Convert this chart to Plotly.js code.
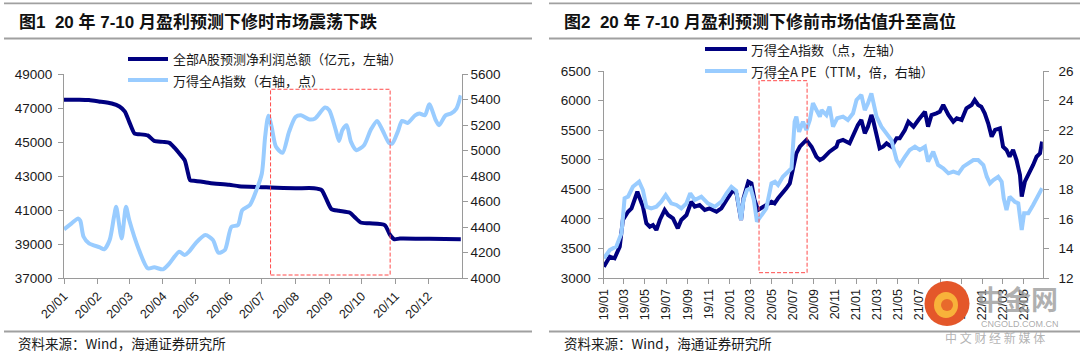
<!DOCTYPE html>
<html>
<head>
<meta charset="utf-8">
<script src="https://cdn.plot.ly/plotly-3.0.1.min.js"></script>
<style>
html,body{margin:0;padding:0;background:#fff;}
#chart{width:1080px;height:353px;}
</style>
</head>
<body>
<div id="chart"></div>
<script>
// ---------------- Chart 1 data (2020) ----------------
const profitDates = ['2020-01-01','2020-01-15','2020-01-24','2020-02-02','2020-02-14','2020-02-21','2020-02-26','2020-03-01','2020-03-06','2020-03-10','2020-03-18','2020-03-24','2020-04-01','2020-04-07','2020-04-12','2020-04-16','2020-04-21','2020-04-24','2020-04-26','2020-05-01','2020-05-14','2020-06-01','2020-06-10','2020-07-01','2020-07-09','2020-08-01','2020-08-18','2020-08-25','2020-08-29','2020-09-03','2020-09-10','2020-09-20','2020-09-24','2020-09-30','2020-10-08','2020-10-22','2020-10-27','2020-10-31','2020-11-05','2020-12-02','2020-12-31'];
const profitValues = [47500,47500,47480,47400,47280,47100,46800,46200,45500,45470,45400,45080,45020,44960,44650,44350,43940,43200,42760,42720,42600,42490,42410,42350,42330,42290,42290,42180,41690,41060,40960,40840,40610,40270,40220,40120,39530,39280,39330,39310,39290];

const indexDates2020 = ['2020-01-01','2020-01-08','2020-01-14','2020-01-16','2020-01-19','2020-01-24','2020-02-03','2020-02-07','2020-02-12','2020-02-16','2020-02-18','2020-02-23','2020-02-27','2020-03-01','2020-03-10','2020-03-18','2020-03-24','2020-04-01','2020-04-07','2020-04-16','2020-04-21','2020-04-25','2020-05-01','2020-05-10','2020-05-17','2020-05-22','2020-05-28','2020-06-03','2020-06-09','2020-06-13','2020-06-20','2020-06-26','2020-07-01','2020-07-04','2020-07-07','2020-07-10','2020-07-14','2020-07-20','2020-07-26','2020-08-01','2020-08-06','2020-08-14','2020-08-19','2020-08-28','2020-09-01','2020-09-07','2020-09-10','2020-09-13','2020-09-17','2020-09-21','2020-09-26','2020-10-03','2020-10-09','2020-10-15','2020-10-20','2020-10-26','2020-10-29','2020-11-03','2020-11-07','2020-11-12','2020-11-19','2020-11-23','2020-11-28','2020-12-02','2020-12-08','2020-12-11','2020-12-17','2020-12-22','2020-12-27','2020-12-31'];
const indexValues2020 = [4382,4429,4468,4450,4324,4272,4241,4225,4298,4481,4559,4311,4559,4455,4220,4076,4084,4068,4115,4207,4180,4207,4272,4337,4298,4199,4220,4402,4416,4533,4573,4690,4821,5108,5275,5187,5030,4983,5148,5265,5278,5245,5253,5339,5318,5161,5077,5161,5200,5069,5004,5043,5161,5234,5161,5061,5056,5148,5234,5218,5278,5292,5278,5365,5239,5200,5278,5292,5331,5435];

// highlight box chart 1
const box1Dates = ['2020-07-09','2020-10-27'];
const box1Values = [37176,48118];

// ---------------- Chart 2 data (2019-2022) ----------------
const idxDates = ['2019-01-02','2019-01-19','2019-02-02','2019-02-17','2019-02-26','2019-03-13','2019-03-23','2019-04-01','2019-04-09','2019-04-16','2019-04-25','2019-05-05','2019-05-15','2019-05-24','2019-06-03','2019-06-13','2019-06-27','2019-07-07','2019-07-21','2019-08-04','2019-08-14','2019-08-29','2019-09-12','2019-09-22','2019-10-06','2019-10-21','2019-11-04','2019-11-24','2019-12-08','2019-12-23','2020-01-01','2020-01-11','2020-01-21','2020-02-03','2020-02-10','2020-02-24','2020-03-04','2020-03-13','2020-03-23','2020-04-02','2020-04-16','2020-05-01','2020-05-10','2020-05-20','2020-06-03','2020-06-13','2020-06-23','2020-07-02','2020-07-12','2020-07-22','2020-08-10','2020-08-25','2020-09-08','2020-09-18','2020-09-27','2020-10-16','2020-11-05','2020-11-10','2020-11-24','2020-12-13','2020-12-23','2021-01-06','2021-01-16','2021-01-26','2021-02-04','2021-02-14','2021-02-19','2021-03-01','2021-03-10','2021-03-20','2021-03-30','2021-04-13','2021-04-28','2021-05-07','2021-05-22','2021-06-01','2021-06-16','2021-06-30','2021-07-10','2021-07-19','2021-07-28','2021-08-07','2021-08-21','2021-08-31','2021-09-10','2021-09-25','2021-10-09','2021-10-19','2021-11-02','2021-11-16','2021-12-01','2021-12-10','2021-12-20','2021-12-29','2022-01-08','2022-01-18','2022-01-28','2022-02-07','2022-02-21','2022-03-02','2022-03-12','2022-03-21','2022-03-31','2022-04-10','2022-04-20','2022-04-25','2022-05-04','2022-05-19','2022-05-28','2022-06-07','2022-06-17','2022-06-23'];
const idxValues = [3191,3360,3333,3530,3981,4121,4178,4347,4459,4347,4206,3925,3867,3896,3812,3981,4150,4065,4009,3840,3981,4065,4290,4206,4234,4150,4178,4121,4178,4319,4403,4488,4420,3981,4347,4628,4600,4319,4150,4178,4234,4290,4263,4347,4432,4516,4600,4826,5108,5220,5334,5220,5051,4995,5023,5136,5220,5305,5334,5278,5418,5587,5672,5447,5558,5756,5672,5447,5193,5220,5277,5220,5362,5362,5503,5643,5558,5672,5756,5812,5558,5756,5785,5812,5926,5756,5643,5700,5672,5870,5926,6010,5926,5897,5785,5616,5389,5503,5531,5220,5165,5051,5165,4995,4742,4375,4628,4797,4911,5051,5108,5305];

const peDates = ['2019-01-02','2019-01-19','2019-02-07','2019-02-22','2019-03-03','2019-03-13','2019-03-27','2019-04-14','2019-04-25','2019-05-05','2019-05-19','2019-06-03','2019-06-17','2019-06-30','2019-07-16','2019-07-31','2019-08-14','2019-08-29','2019-09-09','2019-09-22','2019-10-11','2019-10-30','2019-11-19','2019-12-08','2019-12-23','2020-01-06','2020-01-20','2020-02-03','2020-02-10','2020-02-20','2020-03-02','2020-03-11','2020-03-20','2020-04-02','2020-04-16','2020-05-01','2020-05-11','2020-05-20','2020-06-03','2020-06-18','2020-06-28','2020-07-07','2020-07-12','2020-07-20','2020-07-31','2020-08-10','2020-08-20','2020-08-29','2020-09-08','2020-09-18','2020-09-23','2020-10-07','2020-10-16','2020-10-26','2020-11-07','2020-11-24','2020-12-08','2020-12-23','2021-01-02','2021-01-16','2021-01-26','2021-02-04','2021-02-14','2021-02-21','2021-03-01','2021-03-15','2021-03-30','2021-04-13','2021-04-28','2021-05-07','2021-05-22','2021-06-05','2021-06-20','2021-07-04','2021-07-19','2021-07-28','2021-08-12','2021-08-26','2021-09-10','2021-09-25','2021-10-09','2021-10-24','2021-11-07','2021-11-21','2021-12-06','2021-12-20','2022-01-04','2022-01-14','2022-01-23','2022-02-02','2022-02-16','2022-02-26','2022-03-04','2022-03-12','2022-03-21','2022-04-05','2022-04-15','2022-04-20','2022-04-25','2022-05-02','2022-05-14','2022-05-28','2022-06-11','2022-06-23'];
const peValues = [13.33,13.89,14.12,15.02,17.39,17.50,18.17,18.51,17.95,16.82,16.71,16.82,17.16,17.61,17.05,16.94,16.71,17.05,17.73,17.28,17.50,17.05,16.82,17.16,17.73,18.17,17.90,15.92,17.28,17.95,18.07,17.28,15.81,16.26,16.71,18.40,18.51,18.29,18.85,19.19,19.42,22.57,22.91,21.89,22.57,22.01,22.69,23.82,23.36,22.91,23.36,23.02,23.59,22.23,22.80,22.91,22.69,23.14,24.04,24.38,23.36,23.81,24.49,23.81,22.91,22.23,21.79,21.33,19.98,19.64,20.20,20.66,20.88,20.66,20.88,19.87,20.54,19.64,19.42,19.08,19.19,19.08,19.53,19.76,19.98,19.98,19.64,18.85,18.40,18.63,18.85,18.51,17.39,16.60,17.50,17.16,17.05,16.15,15.25,16.38,16.38,16.94,17.61,18.07];

// highlight box chart 2
const box2Dates = ['2020-03-26','2020-08-12'];
const box2Values = [3090,6336];

// ---------------- Texts ----------------
const title1 = '图1  20 年 7-10 月盈利预测下修时市场震荡下跌';
const title2 = '图2  20 年 7-10 月盈利预测下修前市场估值升至高位';
const legend1 = ['全部A股预测净利润总额（亿元，左轴）','万得全A指数（右轴，点）'];
const legend2 = ['万得全A指数（点，左轴）','万得全A PE（TTM，倍，右轴）'];
const source = '资料来源：Wind，海通证券研究所';

// ---------------- Styling ----------------
const NAVY = '#000080';
const LIGHT = '#99CCFF';
const W = 1080, H = 353;
const fx = x => x / W;
const fy = y => 1 - y / H;
const LAT = 'Liberation Sans, Arial, Noto Sans CJK SC, sans-serif';
const CJK = 'Noto Sans CJK SC, Liberation Sans, sans-serif';
const AXC = '#9a9a9a';

const traces = [
  {x: profitDates, y: profitValues, xaxis: 'x', yaxis: 'y', type: 'scatter', mode: 'lines',
   line: {color: NAVY, width: 4, shape: 'spline', smoothing: 0.6}, name: legend1[0], showlegend: false},
  {x: indexDates2020, y: indexValues2020, xaxis: 'x', yaxis: 'y2', type: 'scatter', mode: 'lines',
   line: {color: LIGHT, width: 4, shape: 'spline', smoothing: 0.7}, name: legend1[1], showlegend: false},
  {x: idxDates, y: idxValues, xaxis: 'x2', yaxis: 'y3', type: 'scatter', mode: 'lines',
   line: {color: NAVY, width: 4}, name: legend2[0], showlegend: false},
  {x: peDates, y: peValues, xaxis: 'x2', yaxis: 'y4', type: 'scatter', mode: 'lines',
   line: {color: LIGHT, width: 4}, name: legend2[1], showlegend: false}
];

const axBase = {showline: true, linecolor: AXC, linewidth: 1, ticks: 'outside', ticklen: 5,
  tickcolor: AXC, tickwidth: 1, showgrid: false, zeroline: false, fixedrange: true,
  tickfont: {family: LAT, size: 13.5, color: '#1a1a1a'}};

const layout = {
  width: W, height: H,
  margin: {l: 0, r: 0, t: 0, b: 0},
  paper_bgcolor: '#fff', plot_bgcolor: '#fff',
  showlegend: false,
  xaxis: Object.assign({}, axBase, {domain: [fx(64), fx(461.7)], anchor: 'y', type: 'date',
    range: ['2020-01-01', '2020-12-31T20:00'], tick0: '2020-01-01', dtick: 'M1', tickformat: '%y/%m',
    tickangle: -45, tickfont: {family: LAT, size: 12.5, color: '#1a1a1a'}}),
  yaxis: Object.assign({}, axBase, {domain: [fy(278), fy(74.3)], anchor: 'x', range: [37000, 49000],
    tick0: 37000, dtick: 2000, tickformat: 'd', ticklabelstandoff: 3}),
  yaxis2: Object.assign({}, axBase, {overlaying: 'y', side: 'right', anchor: 'x', range: [4000, 5600],
    tick0: 4000, dtick: 200, tickformat: 'd'}),
  xaxis2: Object.assign({}, axBase, {domain: [fx(603.5), fx(1042.8)], anchor: 'y3', type: 'date',
    range: ['2019-01-01', '2022-06-25'], tick0: '2019-01-01', dtick: 'M2', tickformat: '%y/%m',
    tickangle: -90, tickfont: {family: LAT, size: 12.5, color: '#1a1a1a'}}),
  yaxis3: Object.assign({}, axBase, {domain: [fy(278), fy(71)], anchor: 'x2', range: [3000, 6500],
    tick0: 3000, dtick: 500, tickformat: 'd', ticklabelstandoff: 4}),
  yaxis4: Object.assign({}, axBase, {overlaying: 'y3', side: 'right', anchor: 'x2', range: [12, 26],
    tick0: 12, dtick: 2, tickformat: 'd', ticklabelstandoff: 7}),
  shapes: [],
  annotations: []
};

// separators
const sepLine = (x0, x1, y) => ({type: 'line', xref: 'paper', yref: 'paper', x0: fx(x0), x1: fx(x1),
  y0: fy(y), y1: fy(y), line: {color: '#a0a0a0', width: 1.8}});
layout.shapes.push(sepLine(4, 532, 3.4), sepLine(4, 532, 38.5), sepLine(4, 532, 331.5));
layout.shapes.push(sepLine(549, 1080, 3.4), sepLine(549, 1080, 38.5), sepLine(549, 1080, 331.5));

// highlight boxes
layout.shapes.push({type: 'rect', xref: 'x', yref: 'y', x0: box1Dates[0], x1: box1Dates[1],
  y0: box1Values[0], y1: box1Values[1], line: {color: '#FF4B4B', width: 1, dash: '4px,2px'}, fillcolor: 'rgba(0,0,0,0)'});
layout.shapes.push({type: 'rect', xref: 'x2', yref: 'y3', x0: box2Dates[0], x1: box2Dates[1],
  y0: box2Values[0], y1: box2Values[1], line: {color: '#FF4B4B', width: 1, dash: '4px,2px'}, fillcolor: 'rgba(0,0,0,0)'});

// legend samples
const legLine = (x0, x1, y, c) => ({type: 'line', xref: 'paper', yref: 'paper', x0: fx(x0), x1: fx(x1),
  y0: fy(y), y1: fy(y), line: {color: c, width: 4}});
layout.shapes.push(legLine(128, 168, 59, NAVY), legLine(128, 168, 80, LIGHT));
layout.shapes.push(legLine(705, 747, 49, NAVY), legLine(705, 747, 71, LIGHT));

const txt = (x, y, t, size, family, color, anchor) => ({xref: 'paper', yref: 'paper', x: fx(x), y: fy(y),
  xanchor: anchor || 'left', yanchor: 'middle', text: t, showarrow: false,
  font: {family: family, size: size, color: color || '#1a1a1a'}});

layout.annotations.push(
  txt(17, 22, '<b>' + title1 + '</b>', 17, LAT, '#111'),
  txt(562, 22, '<b>' + title2 + '</b>', 17, LAT, '#111'),
  txt(171, 59, legend1[0], 13, CJK),
  txt(171, 80, legend1[1], 13, CJK),
  txt(749, 49, legend2[0], 13, CJK),
  txt(749, 71, legend2[1], 13, CJK),
  txt(16, 342.5, source, 13.5, CJK),
  txt(562, 342.5, source, 13.5, CJK)
);

// watermark
layout.shapes.push({type: 'circle', xref: 'paper', yref: 'paper', x0: fx(924.5), x1: fx(969.5), y0: fy(326), y1: fy(281),
  fillcolor: '#E4572A', line: {width: 0}});
layout.shapes.push({type: 'circle', xref: 'paper', yref: 'paper', x0: fx(934), x1: fx(958), y0: fy(318), y1: fy(292),
  fillcolor: '#F8B23A', line: {width: 0}});
layout.shapes.push({type: 'circle', xref: 'paper', yref: 'paper', x0: fx(941), x1: fx(953), y0: fy(311), y1: fy(299),
  fillcolor: '#E86A2C', line: {width: 0}});
layout.annotations.push(
  txt(1018, 298, '<b>中金网</b>', 27, CJK, 'rgba(150,150,150,0.75)', 'center'),
  txt(1020, 324, 'CNGOLD.COM.CN', 9, LAT, 'rgba(150,150,150,0.8)', 'center'),
  txt(995, 337, '中 文 财 经 新 媒 体', 12, CJK, 'rgba(160,160,160,0.8)', 'center')
);

Plotly.newPlot('chart', traces, layout, {staticPlot: true, displayModeBar: false});
</script>
</body>
</html>
